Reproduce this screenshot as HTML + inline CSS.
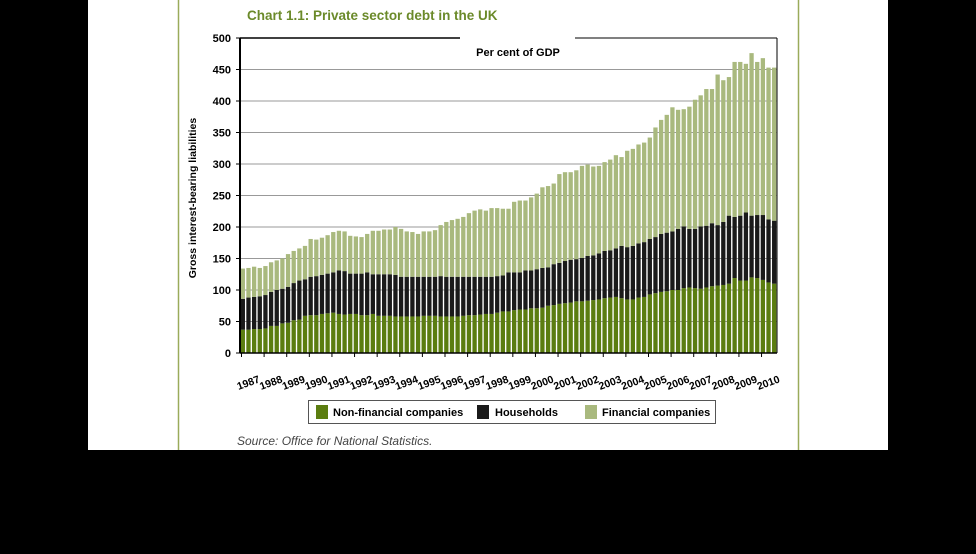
<!DOCTYPE html>
<html><head><meta charset="utf-8"><style>
body{margin:0;background:#000;width:976px;height:549px;overflow:hidden;font-family:"Liberation Sans",sans-serif}
</style></head><body>
<svg width="976" height="549" viewBox="0 0 976 549" xmlns="http://www.w3.org/2000/svg">
<rect x="88" y="0" width="800" height="450" fill="#fff"/>
<line x1="178.5" y1="0" x2="178.5" y2="450" stroke="#9aab5a" stroke-width="1.5"/>
<line x1="798.5" y1="0" x2="798.5" y2="450" stroke="#9aab5a" stroke-width="1.5"/>
<text x="247" y="20" font-size="13.5" font-weight="bold" fill="#6b8a2a">Chart 1.1: Private sector debt in the UK</text>
<g id="grid"></g>
<g id="bars"></g>
<g id="axes"></g>
<text x="518" y="56" font-size="11" font-weight="bold" text-anchor="middle" fill="#000">Per cent of GDP</text>
<text transform="translate(196,198) rotate(-90)" font-size="10.5" font-weight="bold" text-anchor="middle" fill="#000">Gross interest-bearing liabilities</text>
<g>
<rect x="308.5" y="400.5" width="407" height="23" fill="#fff" stroke="#555"/>
<rect x="316" y="405" width="12" height="14" fill="#5b7d10"/>
<text x="333" y="416" font-size="11" font-weight="bold">Non-financial companies</text>
<rect x="477" y="405" width="12" height="14" fill="#1a1a1a"/>
<text x="495" y="416" font-size="11" font-weight="bold">Households</text>
<rect x="585" y="405" width="12" height="14" fill="#a9b97e"/>
<text x="602" y="416" font-size="11" font-weight="bold">Financial companies</text>
</g>
<text x="237" y="445" font-size="12" font-style="italic" fill="#444">Source: Office for National Statistics.</text>
</svg>
<script>
const years=["1987","1988","1989","1990","1991","1992","1993","1994","1995","1996","1997","1998","1999","2000","2001","2002","2003","2004","2005","2006","2007","2008","2009","2010"];
const yTicks=[0,50,100,150,200,250,300,350,400,450,500];
// stacked levels (per cent of GDP), quarterly from 1987 Q1
const nonFinancial=[37,37,38,38,39,43,43,47,48,52,53,59,60,60,62,63,64,62,61,62,62,60,60,62,59,59,59,58,58,58,58,58,59,59,59,58,58,58,58,59,60,60,61,62,62,64,66,66,68,69,69,71,71,72,75,76,78,79,80,82,82,83,84,85,87,88,89,87,85,85,88,89,93,95,97,98,100,100,103,104,103,102,104,106,107,108,110,119,115,115,120,119,116,112,110];
const nonFinPlusHouseholds=[86,88,89,90,92,97,100,102,105,111,115,117,121,122,124,126,128,131,130,126,126,126,128,125,125,125,125,124,121,121,121,121,121,121,121,122,121,121,121,121,121,121,121,121,121,122,123,128,128,128,131,131,133,135,136,141,143,146,148,149,151,154,155,158,162,163,166,170,168,170,174,176,181,184,189,191,193,197,201,197,197,201,202,206,203,208,218,216,218,223,218,219,219,212,210];
const totalDebt=[134,135,137,135,138,144,147,150,157,162,166,170,181,180,183,187,192,194,193,186,185,184,189,194,194,196,196,200,197,193,192,189,193,193,195,203,208,211,213,216,222,226,228,226,230,230,229,229,240,242,242,247,253,263,265,269,284,287,287,290,297,299,296,297,303,307,314,311,321,324,331,334,342,358,370,378,390,386,387,391,402,409,419,419,442,433,438,462,462,459,476,462,468,453,453];
const NS="http://www.w3.org/2000/svg";
const X0=240,X1=777,Y0=353,Y1=38,YMAX=500;
const n=totalDebt.length, pitch=(X1-X0)/n;
function y(v){return Y0-(v/YMAX)*(Y0-Y1);}
function x(i){return X0+i*pitch;}
function mk(tag,attrs,parent){const e=document.createElementNS(NS,tag);for(const k in attrs)e.setAttribute(k,attrs[k]);parent.appendChild(e);return e;}
const grid=document.getElementById('grid'),bars=document.getElementById('bars'),axes=document.getElementById('axes');
yTicks.forEach(t=>{
  if(t>0&&t<500){const l=mk('line',{x1:X0,x2:X1,y1:y(t),y2:y(t),stroke:'#999','stroke-width':1},grid);
  
  }
  const tk=mk('line',{x1:X0-4,x2:X0,y1:y(t),y2:y(t),stroke:'#000'},axes);
  
  
  const tx=mk('text',{x:X0-9,y:y(t)+4,'font-size':11,'font-weight':'bold','text-anchor':'end'},axes);
  tx.textContent=t;
  
  
});
const bw=pitch*0.76;
for(let i=0;i<n;i++){
  const segs=[[0,nonFinancial[i],'#5b7d10'],[nonFinancial[i],nonFinPlusHouseholds[i],'#1a1a1a'],[nonFinPlusHouseholds[i],totalDebt[i],'#a9b97e']];
  const names=['bar-nonfinancial','bar-households','bar-financial'];
  segs.forEach((s,k)=>{
    const r=mk('rect',{x:x(i)+(pitch-bw)/2,y:y(s[1]),width:bw,height:y(s[0])-y(s[1]),fill:s[2]},bars);
    
    
  });
}
// frame
[[X0,Y1,X0,Y0,2],[X0,Y0,X1,Y0,1.5],[X1,Y1,X1,Y0,1],[X0,Y1,460,Y1,1.5],[575,Y1,X1,Y1,1]].forEach(a=>{
  const l=mk('line',{x1:a[0],y1:a[1],x2:a[2],y2:a[3],stroke:'#000','stroke-width':a[4]},axes);
  
  
});
years.forEach((yr,j)=>{
  const xx=x(j*4)+1.5;
  const tk=mk('line',{x1:xx,x2:xx,y1:Y0,y2:Y0+4,stroke:'#000'},axes);
  
  
  const t=mk('text',{transform:`translate(${xx+8},${Y0+33}) rotate(-20)`,'font-size':10.5,'font-weight':'bold','text-anchor':'middle'},axes);
  t.textContent=yr;
  
  
});
</script>
</body></html>
